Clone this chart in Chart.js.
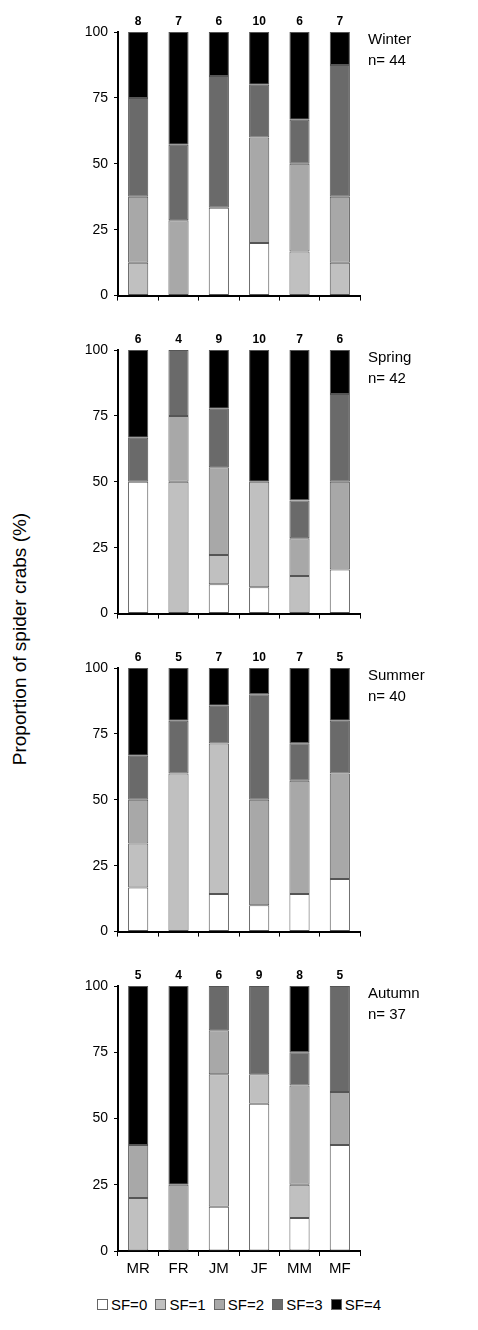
<!DOCTYPE html>
<html><head><meta charset="utf-8">
<script src="https://cdn.jsdelivr.net/npm/chart.js@4"></script>
<style>
body{margin:0;width:478px;height:1330px;background:#fff;position:relative;font-family:Arial,"Liberation Sans",sans-serif;overflow:hidden}
.p{position:absolute;left:40px;width:438px}
#yl{position:absolute;left:-130px;top:628px;width:300px;text-align:center;transform:rotate(-90deg);font-size:19px}
#leg{position:absolute;top:1296px;left:0;width:478px;text-align:center;font-size:15px}
#leg span{display:inline-block;margin:0 2px}
#leg i{display:inline-block;width:9px;height:9px;border:1px solid #666;margin-right:3px;vertical-align:0}
</style></head><body>
<div class="p" style="top:0;height:310px"><canvas id="c0"></canvas></div>
<div class="p" style="top:318px;height:310px"><canvas id="c1"></canvas></div>
<div class="p" style="top:636px;height:310px"><canvas id="c2"></canvas></div>
<div class="p" style="top:954px;height:335px"><canvas id="c3"></canvas></div>
<div id="yl">Proportion of spider crabs (%)</div>
<div id="leg"></div>
<script>
const sites=["MR","FR","JM","JF","MM","MF"];
const stages=["SF=0","SF=1","SF=2","SF=3","SF=4"];
const seasons=["Winter","Spring","Summer","Autumn"];
const totals=[44,42,40,37];
const counts=[[8,7,6,10,6,7],[6,4,9,10,7,6],[6,5,7,10,7,5],[5,4,6,9,8,5]];
const yTicks=[0,25,50,75,100];
// values per season: [site][SF0..SF4] in %
const winter=[[0,12.5,25,37.5,25],[0,0,28.6,28.6,42.8],[33.3,0,0,50,16.7],[20,0,40,20,20],[0,16.7,33.3,16.7,33.3],[0,12.5,25,50,12.5]];
const spring=[[50,0,0,16.7,33.3],[0,50,25,25,0],[11.1,11.1,33.3,22.2,22.3],[10,40,0,0,50],[0,14.3,14.3,14.3,57.1],[16.7,0,33.3,33.3,16.7]];
const summer=[[16.7,16.7,16.6,16.7,33.3],[0,60,0,20,20],[14.3,57.1,0,14.3,14.3],[10,0,40,40,10],[14.3,0,42.9,14.3,28.5],[20,0,40,20,20]];
const autumn=[[0,20,20,0,60],[0,0,25,0,75],[16.7,50,16.6,16.7,0],[55.6,11.1,0,33.3,0],[12.5,12.5,37.5,12.5,25],[40,0,20,40,0]];
const data=[winter,spring,summer,autumn];
const colors=["#ffffff","#c0c0c0","#a8a8a8","#6a6a6a","#000000"];
const font="Arial, 'Liberation Sans', sans-serif";
document.getElementById('leg').innerHTML=stages.map((s,i)=>`<span><i style="background:${colors[i]}"></i>${s}</span>`).join(' ');
seasons.forEach((season,k)=>{
  const last=k===3;
  const labelPlug={id:'lab'+k,afterDraw(ch){
    const c=ch.ctx,a=ch.chartArea,x=ch.scales.x;
    c.save();c.fillStyle='#000';c.textAlign='center';c.textBaseline='alphabetic';
    c.font='bold 12px '+font;
    counts[k].forEach((n,i)=>c.fillText(n,x.getPixelForValue(i),a.top-7));
    c.textAlign='left';c.font='15px '+font;
    c.fillText(season,a.right+8,a.top+12);
    c.fillText('n= '+totals[k],a.right+8,a.top+33);
    c.restore();}};
  new Chart(document.getElementById('c'+k),{type:'bar',
    data:{labels:sites,datasets:stages.map((s,j)=>({label:s,data:data[k].map(r=>r[j]),backgroundColor:colors[j],borderColor:'#555',borderWidth:1,borderSkipped:false,barPercentage:0.5,categoryPercentage:1}))},
    options:{responsive:true,maintainAspectRatio:false,animation:false,
      layout:{padding:{top:32,right:118,left:0,bottom:0}},
      plugins:{legend:{display:false},tooltip:{enabled:false}},
      scales:{
        x:{stacked:true,grid:{offset:true,drawOnChartArea:false,color:'#000',tickLength:5,tickColor:'#000'},border:{color:'#000',width:2},
          ticks:{display:last,color:'#000',font:{size:15,family:font},padding:4},
          afterFit:s=>{s.height=last?38:11;}},
        y:{stacked:true,min:0,max:100,grid:{drawOnChartArea:false,tickLength:4,tickColor:'#000'},border:{color:'#000',width:2},
          afterBuildTicks:s=>{s.ticks=yTicks.map(v=>({value:v}));},
          ticks:{color:'#000',font:{size:14,family:font},padding:6},
          afterFit:s=>{s.width=78;}}
      }},plugins:[labelPlug]});
});
</script></body></html>
